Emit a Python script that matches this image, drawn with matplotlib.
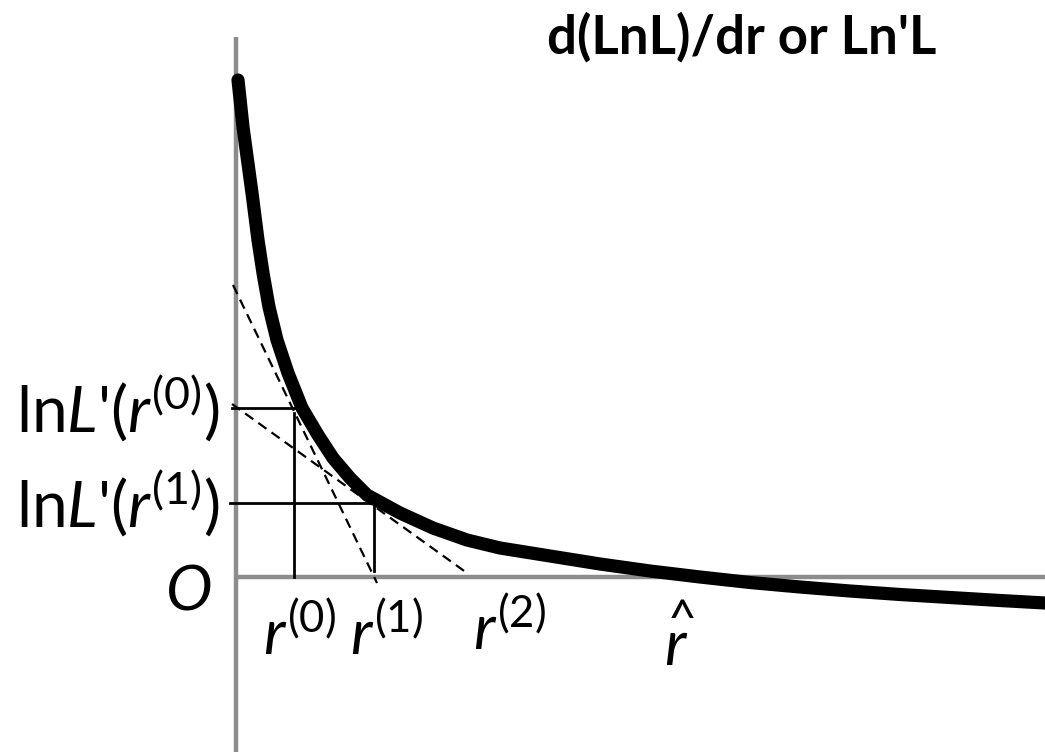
import numpy as np
import matplotlib
matplotlib.use("Agg")
from matplotlib import pyplot as plt

# curve d(lnL)/dr
r = [0.02, 0.07, 0.16, 0.22, 0.27, 0.33, 0.41, 0.52, 0.66, 0.82, 0.97,
     1.14, 1.31, 1.64, 1.97, 2.31, 2.64, 3.14, 3.64, 4.14, 4.64, 5.14,
     5.64, 6.14, 6.64, 7.14, 7.64, 8.09]
v = [4.97, 4.50, 3.84, 3.37, 3.04, 2.70, 2.37, 2.04, 1.69, 1.42, 1.19,
     0.99, 0.82, 0.64, 0.49, 0.37, 0.29, 0.21, 0.13, 0.06, 0.00, -0.055,
     -0.10, -0.14, -0.175, -0.205, -0.235, -0.26]

# Newton iterates
r0, L0 = 0.58, 1.69
r1, L1 = 1.38, 0.74
r2 = 2.31
r_hat = 4.40

# dashed tangents
tan1_r = [-0.03, 1.41]
tan1_v = [2.92, -0.06]
tan2_r = [-0.04, 2.31]
tan2_v = [1.73, 0.04]

plt.rcParams["font.family"] = "Lato"
plt.rcParams["mathtext.fontset"] = "custom"
plt.rcParams["mathtext.rm"] = "Lato"
plt.rcParams["mathtext.it"] = "Lato:italic"

fig = plt.figure(figsize=(10.45, 7.52), dpi=100)
ax = fig.add_axes([0, 0, 1, 1])
ax.set_xlim(-2.36, 8.09)
ax.set_ylim(-1.75, 5.77)
ax.axis("off")

grey = "#8c8c8c"
ax.plot([0, 0], [-1.75, 5.40], color=grey, lw=3.2, solid_capstyle="butt", zorder=1)
ax.plot([0, 8.09], [0, 0], color=grey, lw=3.2, solid_capstyle="butt", zorder=1)

# guide lines
ax.plot([-0.04, r0], [L0, L0], color="black", lw=2, zorder=2)
ax.plot([r0, r0], [0, L0 - 0.05], color="black", lw=2, zorder=2)
ax.plot([-0.06, r1], [L1, L1], color="black", lw=2, zorder=2)
ax.plot([r1, r1], [0.06, L1], color="black", lw=2, zorder=2)

ax.plot(tan1_r, tan1_v, color="black", lw=1.6, dashes=(4.5, 2.8), zorder=3)
ax.plot(tan2_r, tan2_v, color="black", lw=1.6, dashes=(4.5, 2.8), zorder=3)

ax.plot(r, v, color="black", lw=9.5, solid_capstyle="round", solid_joinstyle="round", zorder=4)

fs = 45
ax.text(-0.16, L0, r"ln$L$'($r^{(0)}$)", fontsize=46, ha="right", va="center")
ax.text(-0.16, L1, r"ln$L$'($r^{(1)}$)", fontsize=46, ha="right", va="center")
ax.text(-0.48, -0.15, r"$O$", fontsize=fs, ha="center", va="center")
ax.text(r0 + 0.05, -0.78, r"$r^{(0)}$", fontsize=fs, ha="center", va="baseline")
ax.text(r1 + 0.12, -0.78, r"$r^{(1)}$", fontsize=fs, ha="center", va="baseline")
ax.text(r2 + 0.42, -0.73, r"$r^{(2)}$", fontsize=fs, ha="center", va="baseline")
ax.text(r_hat, -0.88, r"$r$", fontsize=fs, ha="center", va="baseline")
ax.text(r_hat + 0.06, -0.59, "^", fontsize=36, ha="center", va="baseline")

ax.text(7.0, 5.24, "d(LnL)/dr or Ln'L", fontsize=38, fontweight="bold",
        ha="right", va="baseline")

fig.savefig("out.png", dpi=100)
